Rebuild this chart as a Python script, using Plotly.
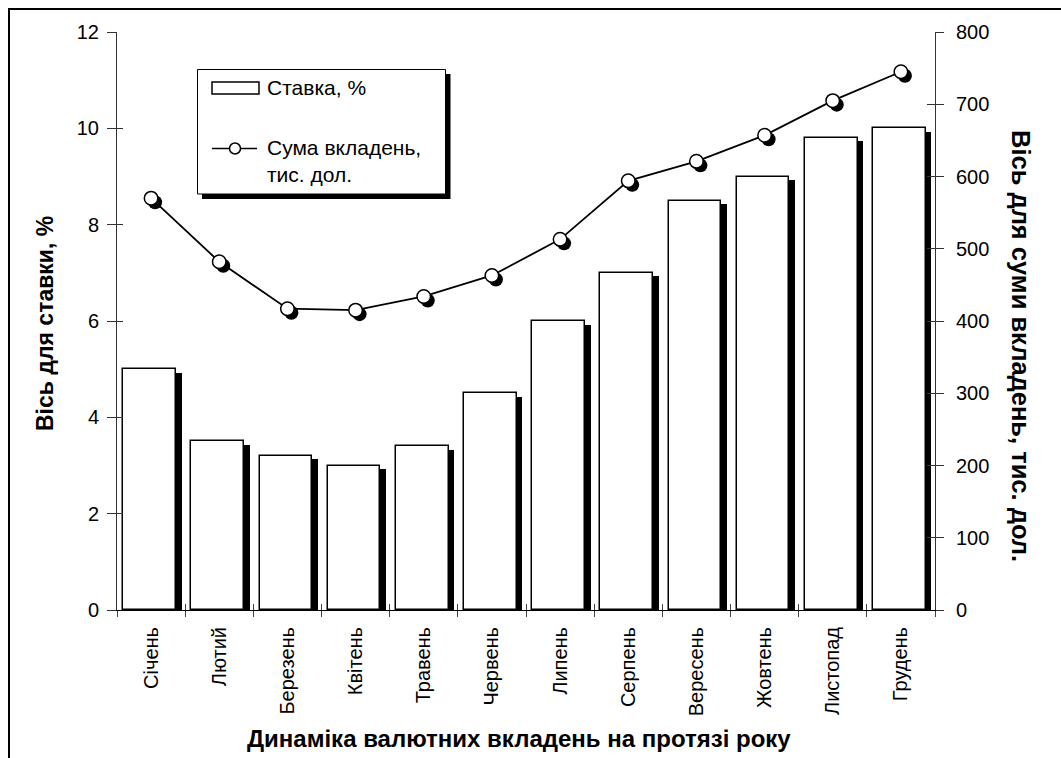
import plotly.graph_objects as go

months = ["Січень", "Лютий", "Березень", "Квітень", "Травень", "Червень",
          "Липень", "Серпень", "Вересень", "Жовтень", "Листопад", "Грудень"]
rate = [5.0, 3.5, 3.2, 3.0, 3.4, 4.5, 6.0, 7.0, 8.5, 9.0, 9.8, 10.0]
deposits = [570, 482, 417, 415, 434, 463, 513, 594, 621, 657, 705, 745]

FONT = "Liberation Sans, Arial, sans-serif"
W, H = 1061, 758
L, R, T, B = 117, 935, 32, 610  # plot area in pixels

x = list(range(len(months)))
bar_w = 0.773
bar_off = -0.408
px_per_x = (R - L) / 12.0
px_per_y1 = (B - T) / 12.0
px_per_y2 = (B - T) / 800.0

shadow_dx = 5.6 / px_per_x
bar_shadow_dy = 3.5 / px_per_y1
mk_shadow_dx = 4.0 / px_per_x
mk_shadow_dy = 4.0 / px_per_y2

fig = go.Figure()

# bar shadows
fig.add_trace(go.Bar(
    x=x, y=[v - bar_shadow_dy for v in rate], width=bar_w, offset=bar_off + shadow_dx,
    marker=dict(color="black", line=dict(width=0)), showlegend=False, hoverinfo="skip",
    xaxis="x", yaxis="y"))
# bars
fig.add_trace(go.Bar(
    x=x, y=rate, width=bar_w, offset=bar_off, name="Ставка, %",
    marker=dict(color="white", line=dict(color="black", width=1.5)),
    showlegend=False, xaxis="x", yaxis="y"))
# marker shadows
fig.add_trace(go.Scatter(
    x=[i + mk_shadow_dx for i in x], y=[v - mk_shadow_dy for v in deposits], mode="markers",
    marker=dict(size=14, color="black", line=dict(width=0)),
    showlegend=False, hoverinfo="skip", xaxis="x", yaxis="y2"))
# line
fig.add_trace(go.Scatter(
    x=x, y=deposits, mode="lines+markers", name="Сума вкладень, тис. дол.",
    line=dict(color="black", width=1.8),
    marker=dict(size=13.5, color="white", line=dict(color="black", width=1.5)),
    showlegend=False, xaxis="x", yaxis="y2"))
# dummy traces for tick-crossing overlay axes
fig.add_trace(go.Scatter(x=[None], y=[None], xaxis="x2", yaxis="y3", showlegend=False, hoverinfo="skip"))
fig.add_trace(go.Scatter(x=[None], y=[None], xaxis="x2", yaxis="y4", showlegend=False, hoverinfo="skip"))
fig.add_trace(go.Scatter(x=[None], y=[None], xaxis="x3", yaxis="y", showlegend=False, hoverinfo="skip"))

boundaries = [i - 0.5 for i in range(len(months) + 1)]
tickfont = dict(family=FONT, size=20, color="black")


def px2p(px, py):
    return (px - L) / (R - L), (B - py) / (B - T)


shapes = []
annotations = []

# outer frame
fx0, fy0 = px2p(9, 9)
fx1, fy1 = px2p(1075, 775)
shapes.append(dict(type="rect", xref="paper", yref="paper", x0=fx0, y0=fy1, x1=fx1, y1=fy0,
                   line=dict(color="black", width=2), fillcolor="rgba(0,0,0,0)", layer="below"))


def rect(px0, py0, px1, py1, fill, lc, lw):
    a0, b0 = px2p(px0, py0)
    a1, b1 = px2p(px1, py1)
    shapes.append(dict(type="rect", xref="paper", yref="paper", x0=a0, y0=b1, x1=a1, y1=b0,
                       fillcolor=fill, line=dict(color=lc, width=lw), layer="above"))


# legend: shadow, box, symbols
rect(202, 74, 450.5, 199, "black", "black", 0)
rect(197.5, 69.5, 445.5, 194, "white", "black", 1)
rect(212, 82, 259, 94, "white", "black", 1.5)
lx0, ly = px2p(212, 148.5)
lx1, _ = px2p(257, 148.5)
shapes.append(dict(type="line", xref="paper", yref="paper", x0=lx0, y0=ly, x1=lx1, y1=ly,
                   line=dict(color="black", width=1.5), layer="above"))
cx0, cy0 = px2p(229.5, 143)
cx1, cy1 = px2p(240.5, 154)
shapes.append(dict(type="circle", xref="paper", yref="paper", x0=cx0, y0=cy1, x1=cx1, y1=cy0,
                   fillcolor="white", line=dict(color="black", width=1.5), layer="above"))

for txt, py in [("Ставка, %", 87), ("Сума вкладень,", 147), ("тис. дол.", 174)]:
    ax, ay = px2p(265, py)
    annotations.append(dict(text=txt, xref="paper", yref="paper", x=ax, y=ay,
                            xanchor="left", yanchor="middle", showarrow=False,
                            font=dict(family=FONT, size=21, color="black")))

# axis titles
tx, ty = px2p(45, 324)
annotations.append(dict(text="<b>Вісь для ставки, %</b>", xref="paper", yref="paper", x=tx, y=ty,
                        xanchor="center", yanchor="middle", textangle=-90, showarrow=False,
                        font=dict(family=FONT, size=23, color="black")))
tx, ty = px2p(1021, 346)
annotations.append(dict(text="<b>Вісь для суми вкладень, тис. дол.</b>", xref="paper", yref="paper",
                        x=tx, y=ty, xanchor="center", yanchor="middle", textangle=90, showarrow=False,
                        font=dict(family=FONT, size=25.5, color="black")))
tx, ty = px2p(519, 738)
annotations.append(dict(text="<b>Динаміка валютних вкладень на протязі року</b>", xref="paper",
                        yref="paper", x=tx, y=ty, xanchor="center", yanchor="middle", showarrow=False,
                        font=dict(family=FONT, size=24, color="black")))

fig.update_layout(
    width=W, height=H,
    margin=dict(l=L, r=W - R, t=T, b=H - B, pad=0),
    paper_bgcolor="white", plot_bgcolor="white",
    barmode="overlay", bargap=0,
    showlegend=False,
    font=dict(family=FONT, color="black"),
    xaxis=dict(range=[-0.5, 11.5], tickvals=x, ticktext=months, tickangle=-90,
               ticks="", showgrid=False, zeroline=False, showline=True,
               linecolor="black", linewidth=1, tickfont=tickfont, ticklabelstandoff=8),
    xaxis2=dict(range=[-0.5, 11.5], overlaying="x", side="bottom", anchor="y3",
                tickvals=boundaries, ticks="inside", ticklen=6, tickcolor="#444",
                showticklabels=False, showgrid=False, zeroline=False, showline=False),
    xaxis3=dict(range=[-0.5, 11.5], overlaying="x", side="bottom", anchor="y",
                tickvals=boundaries, ticks="outside", ticklen=6, tickcolor="#444",
                showticklabels=False, showgrid=False, zeroline=False, showline=False),
    yaxis=dict(range=[0, 12], tickvals=[0, 2, 4, 6, 8, 10, 12], ticks="outside", ticklen=9,
               tickcolor="#333", showgrid=False, zeroline=False, showline=True,
               linecolor="#333", linewidth=1, tickfont=tickfont, ticklabelstandoff=4),
    yaxis2=dict(range=[0, 800], tickvals=list(range(0, 801, 100)), overlaying="y", side="right",
                ticks="outside", ticklen=8, tickcolor="#333", showgrid=False, zeroline=False,
                showline=True, linecolor="#333", linewidth=1, tickfont=tickfont,
                ticklabelstandoff=8),
    yaxis3=dict(range=[0, 12], overlaying="y", side="left", anchor="x2",
                tickvals=[0, 2, 4, 6, 8, 10, 12], ticks="inside", ticklen=6, tickcolor="#333",
                showticklabels=False, showgrid=False, zeroline=False, showline=False),
    yaxis4=dict(range=[0, 800], overlaying="y", side="right", anchor="x2",
                tickvals=list(range(0, 801, 100)), ticks="inside", ticklen=8, tickcolor="#333",
                showticklabels=False, showgrid=False, zeroline=False, showline=False),
    shapes=shapes,
    annotations=annotations,
)

fig.write_html("out.html", config={"displayModeBar": False},
               post_script="document.body.style.margin='0';document.body.style.overflow='hidden';")
